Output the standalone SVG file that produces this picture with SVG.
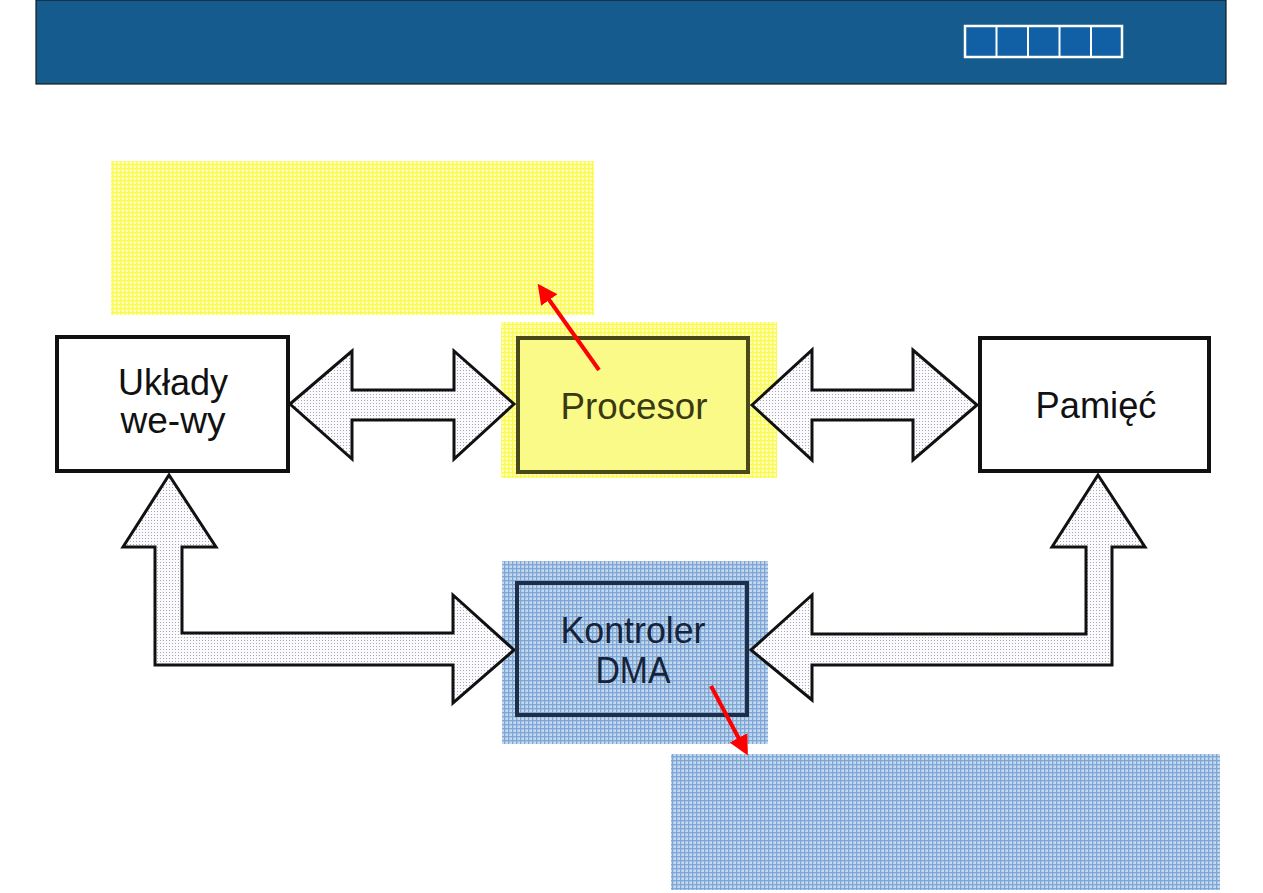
<svg xmlns="http://www.w3.org/2000/svg" width="1263" height="893" viewBox="0 0 1263 893">
  <defs>
    <pattern id="ygrid" width="4" height="4" patternUnits="userSpaceOnUse">
      <rect width="4" height="4" fill="#fdfdb8"/>
      <rect width="4" height="1.3" fill="#fafa50"/>
      <rect width="1.3" height="4" fill="#fafa50"/>
    </pattern>
    <pattern id="bgrid" width="4" height="4" patternUnits="userSpaceOnUse">
      <rect width="4" height="4" fill="#c4d8ee"/>
      <rect width="4" height="1.3" fill="#7ea6d4"/>
      <rect width="1.3" height="4" fill="#7ea6d4"/>
    </pattern>
    <pattern id="dots" width="3" height="3" patternUnits="userSpaceOnUse">
      <rect width="3" height="3" fill="#fbfafc"/>
      <rect x="1" y="1" width="1" height="1" fill="#a9a6b8"/>
    </pattern>
    <marker id="redhead" viewBox="0 0 10 10" refX="8" refY="5" markerWidth="5" markerHeight="5" orient="auto" markerUnits="strokeWidth">
      <path d="M0,0 L10,5 L0,10 Z" fill="#ff0000"/>
    </marker>
  </defs>
  <style>
    .box { stroke-width: 4; }
    .lbl { font-family: "Liberation Sans", Arial, sans-serif; font-size: 36px; text-anchor: middle; }
    .bus { fill: url(#dots); stroke: #111; stroke-width: 3; stroke-linejoin: miter; }
    .red { stroke: #ff0000; stroke-width: 4; fill: none; }
  </style>
  <rect width="1263" height="893" fill="#ffffff"/>

  <g id="header">
    <rect x="36" y="0" width="1190" height="84" fill="#155b8d" stroke="#1a1a1a" stroke-width="1.2"/>
    <rect x="965" y="26" width="157" height="31" fill="#1160a6" stroke="#ffffff" stroke-width="2.5"/>
    <line x1="996.5" y1="26" x2="996.5" y2="57" stroke="#ffffff" stroke-width="2"/>
    <line x1="1028" y1="26" x2="1028" y2="57" stroke="#ffffff" stroke-width="2"/>
    <line x1="1059.5" y1="26" x2="1059.5" y2="57" stroke="#ffffff" stroke-width="2"/>
    <line x1="1091" y1="26" x2="1091" y2="57" stroke="#ffffff" stroke-width="2"/>
  </g>

  <g id="note-yellow">
    <rect x="111" y="161" width="483" height="154" fill="url(#ygrid)"/>
  </g>
  <g id="note-blue">
    <rect x="671" y="754" width="549" height="136" fill="url(#bgrid)"/>
  </g>

  <g id="highlight-cpu">
    <rect x="501" y="322" width="276" height="156" fill="url(#ygrid)"/>
  </g>
  <g id="highlight-dma">
    <rect x="502" y="561" width="266" height="183" fill="url(#bgrid)"/>
  </g>

  <g id="connectors">
    <path class="bus" d="M290,404 L352,351 L352,390 L454,390 L454,351 L514,404 L454,459 L454,420 L352,420 L352,459 Z"/>
    <path class="bus" d="M752,405 L812,350 L812,390 L913,390 L913,350 L977,405 L913,460 L913,420 L812,420 L812,460 Z"/>
    <path class="bus" d="M169,475 L216,547 L182,547 L182,633 L453,633 L453,595 L514,650 L453,703 L453,665 L155,665 L155,547 L123,547 Z"/>
    <path class="bus" d="M1098,475 L1145,547 L1112,547 L1112,665 L812,665 L812,700 L751,650 L812,595 L812,634 L1086,634 L1086,547 L1052,547 Z"/>
  </g>

  <g id="node-io">
    <rect class="box" x="57" y="337" width="231" height="134" fill="#ffffff" stroke="#111111"/>
    <text class="lbl" x="173" y="395" fill="#111111" textLength="110" lengthAdjust="spacingAndGlyphs">Układy</text>
    <text class="lbl" x="173" y="433" fill="#111111" textLength="105" lengthAdjust="spacingAndGlyphs">we-wy</text>
  </g>

  <g id="node-cpu">
    <rect class="box" x="518" y="338" width="230" height="134" fill="#fafa88" stroke="#4a4a18"/>
    <text class="lbl" x="634" y="419" fill="#3a3a12" textLength="147" lengthAdjust="spacingAndGlyphs">Procesor</text>
  </g>

  <g id="node-mem">
    <rect class="box" x="980" y="338" width="229" height="133" fill="#ffffff" stroke="#111111"/>
    <text class="lbl" x="1096" y="418" fill="#111111" textLength="121" lengthAdjust="spacingAndGlyphs">Pamięć</text>
  </g>

  <g id="node-dma">
    <rect class="box" x="517" y="583" width="230" height="132" fill="url(#bgrid)" stroke="#1e2e48"/>
    <text class="lbl" x="633" y="643" fill="#16233a" textLength="145" lengthAdjust="spacingAndGlyphs">Kontroler</text>
    <text class="lbl" x="633" y="683" fill="#16233a" textLength="75" lengthAdjust="spacingAndGlyphs">DMA</text>
  </g>

  <g id="pointers">
    <line class="red" x1="599" y1="370" x2="540" y2="287" marker-end="url(#redhead)"/>
    <line class="red" x1="711" y1="686" x2="746" y2="752" marker-end="url(#redhead)"/>
  </g>
</svg>
